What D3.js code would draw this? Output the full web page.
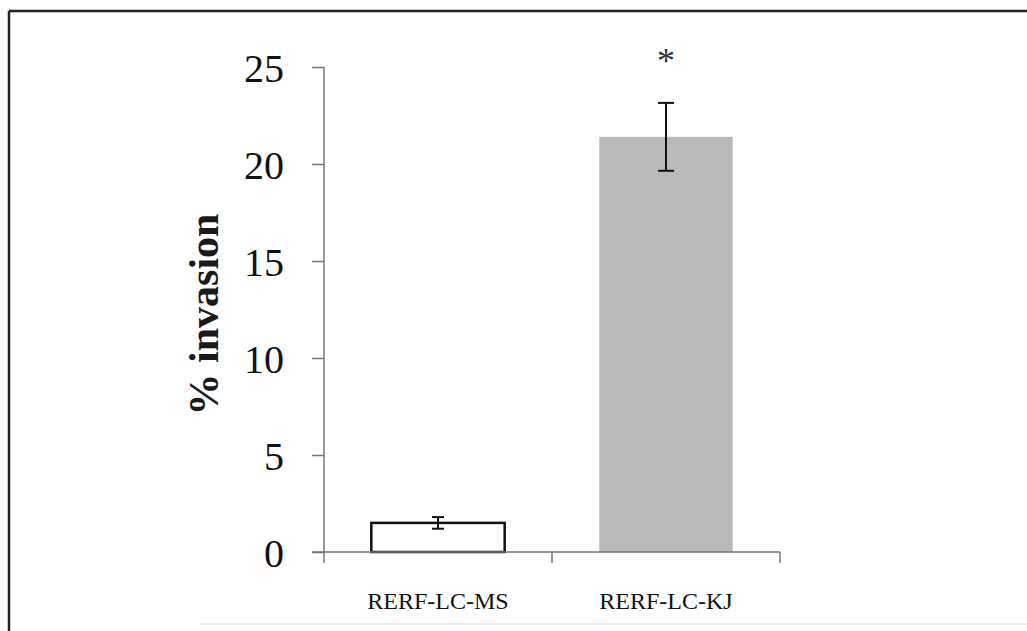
<!DOCTYPE html>
<html>
<head>
<meta charset="utf-8">
<script src="https://cdn.jsdelivr.net/npm/d3@7"></script>
<style>
  html, body { margin: 0; padding: 0; background: #fff; }
  svg { display: block; }
</style>
</head>
<body>
<svg id="chart" width="1027" height="631"></svg>
<script>
const categories = ["RERF-LC-MS", "RERF-LC-KJ"];
const values = [1.5, 21.4];
const errors = [0.3, 1.75];
const barColors = ["#ffffff", "#b9b9b9"];
const significance = ["", "*"];
const yTicks = [0, 5, 10, 15, 20, 25];
const yLabel = "% invasion";

(function () {
const svg = d3.select("#chart");
const W = 1027, H = 631;

// frame
svg.append("line").attr("x1", 9).attr("y1", 11).attr("x2", W).attr("y2", 11)
  .attr("stroke", "#222").attr("stroke-width", 2.5);
svg.append("line").attr("x1", 9).attr("y1", 11).attr("x2", 9).attr("y2", H)
  .attr("stroke", "#222").attr("stroke-width", 2.5);

const pLeft = 324, pRight = 780, pTop = 67, pBottom = 552;

const x = d3.scaleBand().domain(categories).range([pLeft, pRight])
  .paddingInner(0.415).paddingOuter(0.2075);
const y = d3.scaleLinear().domain([0, 25]).range([pBottom, pTop]);

const serif = "'Liberation Serif', 'Times New Roman', serif";

// bars
svg.append("g").selectAll("rect").data(categories).join("rect")
  .attr("x", d => x(d))
  .attr("y", (d, i) => y(values[i]))
  .attr("width", x.bandwidth())
  .attr("height", (d, i) => y(0) - y(values[i]))
  .attr("fill", (d, i) => barColors[i])
  .attr("stroke", (d, i) => i === 0 ? "#111" : "none")
  .attr("stroke-width", 2.5);

// y axis
const yAxis = svg.append("g").attr("transform", `translate(${pLeft},0)`)
  .call(d3.axisLeft(y).tickValues(yTicks).tickSize(12).tickPadding(28).tickFormat(d3.format("d")));
yAxis.select(".domain").attr("stroke", "#777").attr("stroke-width", 1.5).attr("d", `M0,${pTop}V${pBottom}`);
yAxis.selectAll(".tick line").attr("stroke", "#777").attr("stroke-width", 1.5);
yAxis.selectAll(".tick text").attr("font-family", serif).attr("font-size", 40).attr("fill", "#111")
  .attr("dy", "0.35em");

// x axis
const xAxis = svg.append("g").attr("transform", `translate(0,${pBottom})`)
  .call(d3.axisBottom(x).tickSize(0).tickPadding(40));
xAxis.select(".domain").attr("stroke", "#777").attr("stroke-width", 1.5)
  .attr("d", `M${pLeft - 12},0H${pRight}`);
xAxis.selectAll(".tick text").attr("font-family", serif).attr("font-size", 24).attr("fill", "#111");
const sepX = [pLeft, (pLeft + pRight) / 2, pRight];
xAxis.append("g").selectAll("line").data(sepX).join("line")
  .attr("x1", d => d).attr("x2", d => d).attr("y1", 0).attr("y2", 11)
  .attr("stroke", "#777").attr("stroke-width", 1.5);

// error bars
const eb = svg.append("g").attr("stroke", "#111").attr("stroke-width", 2);
categories.forEach((c, i) => {
  const cx = x(c) + x.bandwidth() / 2;
  const hw = i === 0 ? 6 : 8;
  eb.append("line").attr("x1", cx).attr("x2", cx).attr("y1", y(values[i] + errors[i])).attr("y2", y(values[i] - errors[i]));
  eb.append("line").attr("x1", cx - hw).attr("x2", cx + hw).attr("y1", y(values[i] + errors[i])).attr("y2", y(values[i] + errors[i]));
  eb.append("line").attr("x1", cx - hw).attr("x2", cx + hw).attr("y1", y(values[i] - errors[i])).attr("y2", y(values[i] - errors[i]));
});

// significance
svg.append("g").selectAll("text").data(categories).join("text")
  .attr("x", d => x(d) + x.bandwidth() / 2)
  .attr("y", (d, i) => y(values[i] + errors[i]) - 30)
  .attr("text-anchor", "middle")
  .attr("font-family", serif).attr("font-size", 36).attr("fill", "#333")
  .text((d, i) => significance[i]);

// y label
svg.append("text")
  .attr("transform", `translate(218,${(pTop + pBottom) / 2 + 5}) rotate(-90)`)
  .attr("text-anchor", "middle")
  .attr("font-family", serif).attr("font-weight", "bold").attr("font-size", 42).attr("fill", "#1a1a1a")
  .text(yLabel);

// faint bottom rule
svg.append("line").attr("x1", 200).attr("x2", W).attr("y1", 624).attr("y2", 624)
  .attr("stroke", "#ddd").attr("stroke-width", 1);
})();
</script>
</body>
</html>
